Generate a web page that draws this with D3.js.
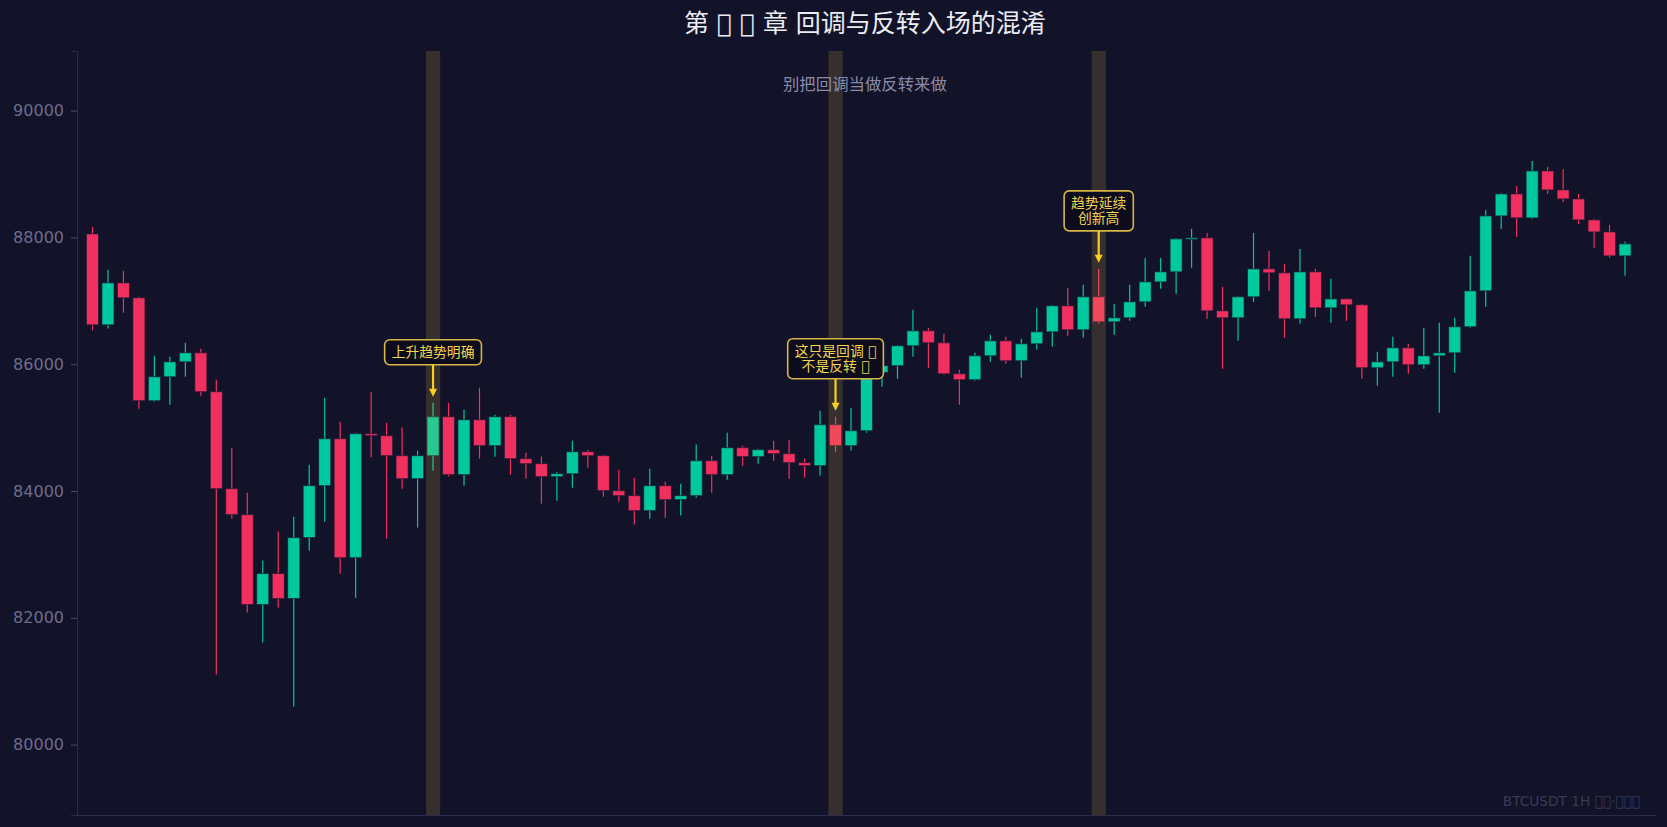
<!DOCTYPE html>
<html><head><meta charset="utf-8">
<script src="https://cdn.jsdelivr.net/npm/d3@7"></script>
<style>html,body{margin:0;padding:0;background:#121229;overflow:hidden}</style>
</head><body><svg id="c" width="1667" height="827"></svg>
<script>
const opens = [88055,86621,87283,87047,85424,85802,86038,86180,85566,84037,
83627,82209,82698,82304,83265,84084,84825,82948,84904,84872,
84557,84194,84557,85172,84258,85124,84715,85172,84510,84431,
84226,84273,84620,84557,84006,83927,83690,84084,83864,83927,
84478,84258,84683,84542,84652,84589,84447,84400,85046,84715,
84951,85870,85977,86291,86527,86338,85849,85755,86133,86369,
86054,86322,86511,86921,86543,87063,86669,86732,86984,87299,
87457,87977,87993,86842,86732,87063,87504,87441,86716,87457,
86889,87031,86937,85944,86038,86259,85991,86133,86180,86590,
87157,88339,88686,88308,89048,88749,88607,88276,88087,87709];
const highs = [88166,87488,87472,87063,86133,86117,86338,86243,85755,84683,
83974,82903,83360,83596,84415,85471,85093,84920,85566,85077,
85000,84636,85392,85392,85281,85629,85203,85203,84604,84542,
84305,84794,84652,84573,84336,84210,84352,84148,84116,84732,
84557,84920,84715,84667,84794,84810,84510,85266,85172,85314,
85960,86000,86300,86858,86574,86479,85912,86180,86464,86432,
86401,86889,86930,87205,87252,87504,86953,87252,87677,87677,
87990,88134,88071,87220,87079,88071,87788,87583,87819,87504,
87346,87040,86945,86196,86432,86322,86574,86653,86732,87709,
88433,88702,88812,89206,89111,89080,88686,88290,88197,87930];
const lows = [86532,86563,86811,85298,85408,85361,85802,85503,81106,83564,
82083,81610,82162,80602,83060,83517,82697,82312,84531,83249,
84037,83423,84321,84226,84084,84510,84542,84258,84194,83801,
83848,84053,84368,83911,83832,83470,83564,83580,83612,83895,
83974,84179,84400,84431,84478,84194,84210,84242,84620,84636,
84920,85644,85770,86117,85944,85834,85361,85739,86038,86007,
85786,86227,86274,86448,86417,86637,86464,86685,86905,87189,
87110,87520,86716,85928,86369,86984,87157,86417,86637,86748,
86653,86685,85770,85660,85802,85849,85928,85235,85865,86574,
86905,88134,88008,88292,88686,88560,88213,87835,87677,87394];
const closes = [86621,87283,87047,85424,85802,86038,86180,85566,84037,83627,
82209,82698,82304,83265,84084,84825,82948,84904,84872,84557,
84194,84557,85172,84258,85124,84715,85172,84510,84431,84226,
84273,84620,84557,84006,83927,83690,84084,83864,83927,84478,
84258,84683,84542,84652,84589,84447,84400,85046,84715,84951,
85870,85977,86291,86527,86338,85849,85755,86133,86369,86054,
86322,86511,86921,86543,87063,86669,86732,86984,87299,87457,
87977,87993,86842,86732,87063,87504,87441,86716,87457,86889,
87031,86937,85944,86038,86259,85991,86133,86180,86590,87157,
88339,88686,88308,89048,88749,88607,88276,88087,87709,87898];
const yTicks = [80000,82000,84000,86000,88000,90000];
const highlightIdx = [22,48,65];
const annoIdx = [22,48,65];
const annoLines = [["上升趋势明确"],["这只是回调 \uE000","不是反转 \uE000"],["趋势延续","创新高"]];
const titleText = "第 \uE000 \uE000 章 回调与反转入场的混淆";
const subtitleText = "别把回调当做反转来做";
const footerText = "BTCUSDT 1H  \uE000\uE000·\uE000\uE000\uE000";

const W = 1667, H = 827;
const M = {l:77, r:11, t:51, b:12};
const FONT = '"DejaVu Sans","Noto Sans CJK SC",sans-serif';
const BG = "#121229", UP = "#00c9a0", DOWN = "#f2305f";
const n = opens.length;
const data = d3.range(n).map(i => ({i, o:opens[i], h:highs[i], l:lows[i], c:closes[i]}));

const svg = d3.select("#c");
svg.append("rect").attr("width",W).attr("height",H).attr("fill",BG);

const x = d3.scaleLinear().domain([-1, n+1]).range([M.l, W - M.r]);
const y = d3.scaleLinear().domain([78890, 90940]).range([H - M.b, M.t]);
const step = x(1) - x(0);
const bw = step * 0.78;

const g = svg.append("g");
const cs = g.selectAll("g.c").data(data).join("g");
cs.append("line")
  .attr("x1", d => x(d.i)).attr("x2", d => x(d.i))
  .attr("y1", d => y(d.h)).attr("y2", d => y(d.l))
  .attr("stroke", d => d.c >= d.o ? UP : DOWN).attr("stroke-width", 1.2);
cs.append("rect")
  .attr("x", d => x(d.i) - bw/2).attr("width", bw)
  .attr("y", d => y(Math.max(d.o, d.c)))
  .attr("height", d => Math.max(1.5, Math.abs(y(d.o) - y(d.c))))
  .attr("fill", d => d.c >= d.o ? UP : DOWN)
  .attr("stroke", "#1a1a33").attr("stroke-width", 1).attr("stroke-opacity", 0.7);

// highlight bands
svg.append("g").selectAll("rect").data(highlightIdx).join("rect")
  .attr("x", i => x(i) - step*0.46).attr("width", step*0.92)
  .attr("y", M.t).attr("height", H - M.b - M.t)
  .attr("fill", "rgba(240,196,70,0.17)");

// axes
const yAxis = svg.append("g").attr("transform", `translate(${M.l},0)`)
  .call(d3.axisLeft(y).tickValues(yTicks).tickFormat(d3.format("d")).tickSize(6).tickPadding(7));
yAxis.select(".domain").attr("stroke", "#2c2c4a");
yAxis.selectAll(".tick line").attr("stroke", "#4a4a6a");
yAxis.selectAll(".tick text").attr("fill", "#6c6c8c").attr("font-size", 16).attr("font-family", FONT);
const xAxis = svg.append("g").attr("transform", `translate(0,${H - M.b})`)
  .call(d3.axisBottom(x).tickValues([]).tickSizeOuter(0));
xAxis.select(".domain").attr("stroke", "#2c2c4a");

// annotations
annoIdx.forEach((idx, k) => {
  const cx = x(idx);
  const tip = y(highs[idx]) - 6;
  const boxBottom = tip - 32;
  const lines = annoLines[k];
  const lh = 15, padX = 7, padY = 5;
  const bh = lines.length * lh + padY * 2;
  const ga = svg.append("g");
  const rect = ga.append("rect");
  const texts = ga.selectAll("text").data(lines).join("text")
    .attr("x", cx).attr("y", (d, j) => boxBottom - bh + padY + lh * j + lh/2)
    .attr("text-anchor", "middle").attr("dominant-baseline", "central")
    .attr("font-family", FONT).attr("font-size", 13.8).attr("fill", "#f5d44e").text(d => d);
  let tw = 0; texts.each(function(){ tw = Math.max(tw, this.getComputedTextLength()); });
  const bwid = tw + padX * 2;
  rect.attr("x", cx - bwid/2).attr("y", boxBottom - bh).attr("width", bwid).attr("height", bh)
    .attr("rx", 5).attr("fill", "#0c0c1c").attr("stroke", "#d8b544").attr("stroke-width", 1.6);
  ga.append("line").attr("x1", cx).attr("x2", cx).attr("y1", boxBottom).attr("y2", tip - 6)
    .attr("stroke", "#f5d020").attr("stroke-width", 2.2);
  ga.append("path").attr("d", `M${cx-4},${tip-8} L${cx+4},${tip-8} L${cx},${tip} Z`).attr("fill", "#f5d020");
});

// title etc
svg.append("text").attr("x", x(49.9)).attr("y", 23).attr("text-anchor", "middle")
  .attr("dominant-baseline", "central").attr("font-family", FONT).attr("font-size", 25)
  .attr("fill", "#ececf4").text(titleText);
svg.append("text").attr("x", x(49.9)).attr("y", 84).attr("text-anchor", "middle")
  .attr("dominant-baseline", "central").attr("font-family", FONT).attr("font-size", 16.4)
  .attr("fill", "#8a8aa8").text(subtitleText);
svg.append("text").attr("x", 1640).attr("y", 806).attr("text-anchor", "end")
  .attr("font-family", FONT).attr("font-size", 13.7).attr("fill", "#3a3a58").text(footerText);
</script></body></html>
